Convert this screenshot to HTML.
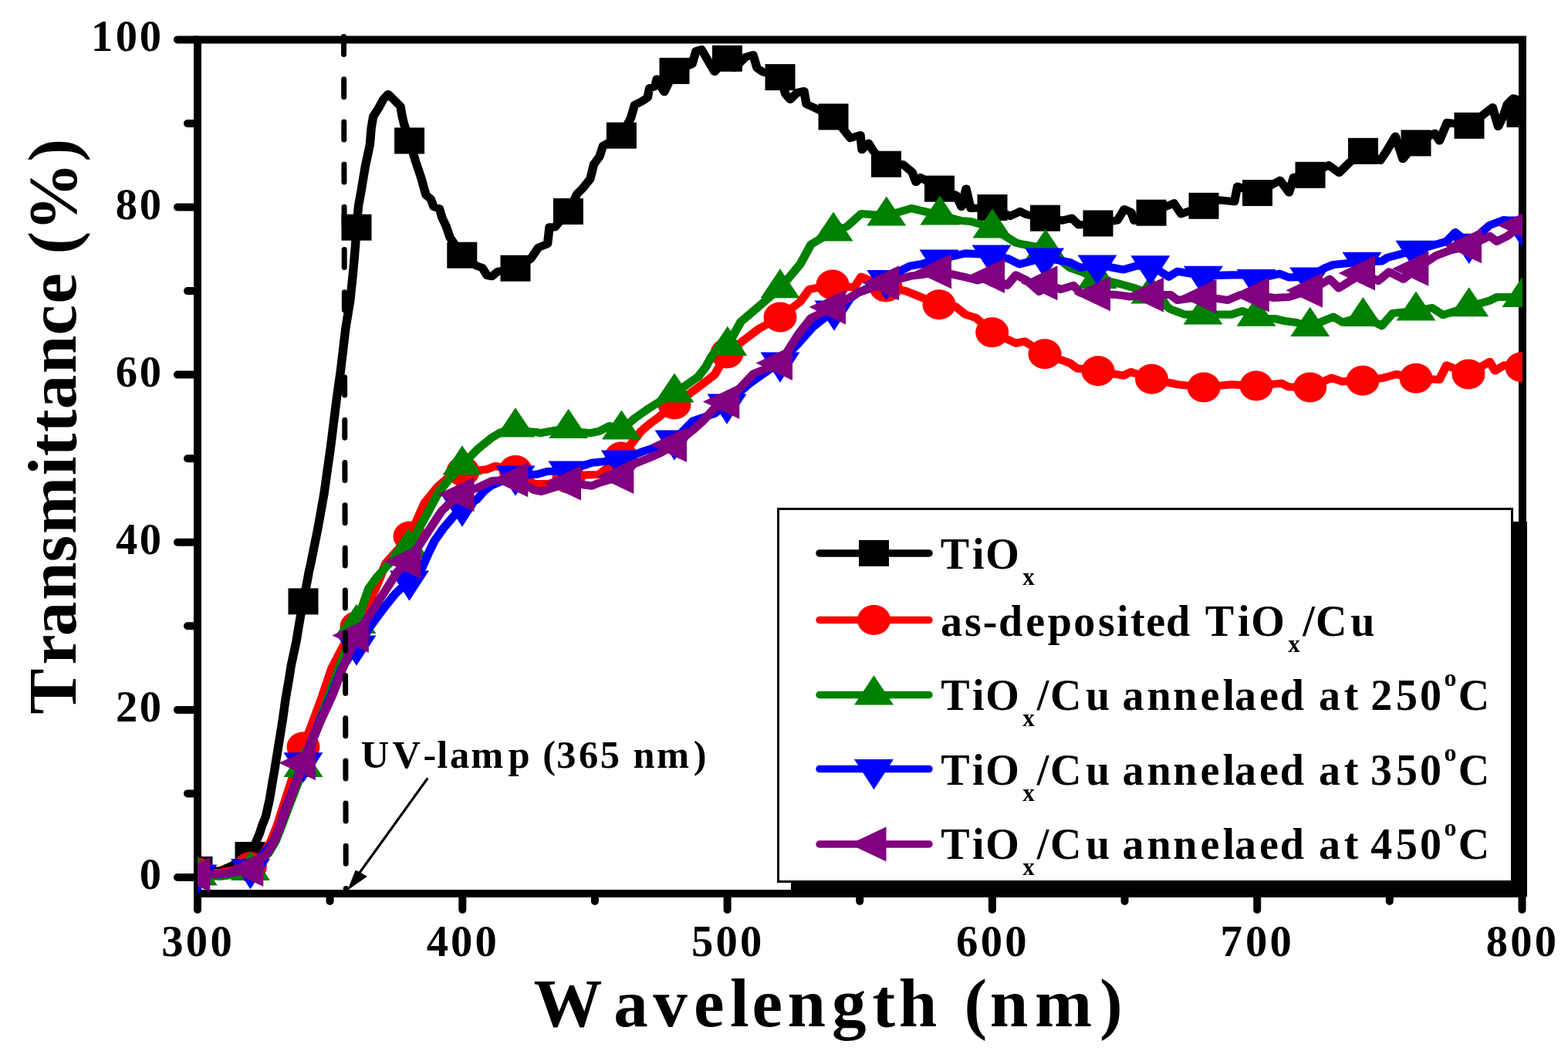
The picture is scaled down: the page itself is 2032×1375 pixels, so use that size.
<!DOCTYPE html>
<html><head><meta charset="utf-8"><title>Transmittance</title>
<style>html,body{margin:0;padding:0;background:#fff;overflow:hidden;} svg{display:block;}</style>
</head><body>
<svg width="2032" height="1375" viewBox="0 0 2032 1375">
<defs><clipPath id="pc"><rect x="256" y="51.5" width="1717" height="1106.5"/></clipPath></defs>
<rect width="2032" height="1375" fill="#fff"/>
<g stroke="#000" stroke-width="10" fill="none">
<rect x="256" y="51.5" width="1717" height="1106.5" stroke-linejoin="miter"/>
<line x1="230" y1="1137.0" x2="256" y2="1137.0" stroke-linecap="round"/>
<line x1="243" y1="1028.4" x2="256" y2="1028.4" stroke-linecap="round"/>
<line x1="230" y1="919.9" x2="256" y2="919.9" stroke-linecap="round"/>
<line x1="243" y1="811.3" x2="256" y2="811.3" stroke-linecap="round"/>
<line x1="230" y1="702.8" x2="256" y2="702.8" stroke-linecap="round"/>
<line x1="243" y1="594.2" x2="256" y2="594.2" stroke-linecap="round"/>
<line x1="230" y1="485.6" x2="256" y2="485.6" stroke-linecap="round"/>
<line x1="243" y1="377.1" x2="256" y2="377.1" stroke-linecap="round"/>
<line x1="230" y1="268.5" x2="256" y2="268.5" stroke-linecap="round"/>
<line x1="243" y1="160.0" x2="256" y2="160.0" stroke-linecap="round"/>
<line x1="230" y1="51.4" x2="256" y2="51.4" stroke-linecap="round"/>
<line x1="256.0" y1="1158" x2="256.0" y2="1179" stroke-linecap="round"/>
<line x1="427.6" y1="1158" x2="427.6" y2="1168" stroke-linecap="round"/>
<line x1="599.3" y1="1158" x2="599.3" y2="1179" stroke-linecap="round"/>
<line x1="770.9" y1="1158" x2="770.9" y2="1168" stroke-linecap="round"/>
<line x1="942.6" y1="1158" x2="942.6" y2="1179" stroke-linecap="round"/>
<line x1="1114.2" y1="1158" x2="1114.2" y2="1168" stroke-linecap="round"/>
<line x1="1285.9" y1="1158" x2="1285.9" y2="1179" stroke-linecap="round"/>
<line x1="1457.5" y1="1158" x2="1457.5" y2="1168" stroke-linecap="round"/>
<line x1="1629.2" y1="1158" x2="1629.2" y2="1179" stroke-linecap="round"/>
<line x1="1800.8" y1="1158" x2="1800.8" y2="1168" stroke-linecap="round"/>
<line x1="1972.5" y1="1158" x2="1972.5" y2="1179" stroke-linecap="round"/>
</g>
<text x="180.8" y="1152.0" style="font-family:'Liberation Serif','Times New Roman',serif;font-weight:bold;font-size:56.6px">0</text>
<text x="149.9 180.8" y="934.9" style="font-family:'Liberation Serif','Times New Roman',serif;font-weight:bold;font-size:56.6px">20</text>
<text x="150.0 180.8" y="717.8" style="font-family:'Liberation Serif','Times New Roman',serif;font-weight:bold;font-size:56.6px">40</text>
<text x="149.7 180.8" y="500.6" style="font-family:'Liberation Serif','Times New Roman',serif;font-weight:bold;font-size:56.6px">60</text>
<text x="149.8 180.8" y="283.5" style="font-family:'Liberation Serif','Times New Roman',serif;font-weight:bold;font-size:56.6px">80</text>
<text x="118.0 149.8 180.8" y="66.4" style="font-family:'Liberation Serif','Times New Roman',serif;font-weight:bold;font-size:56.6px">100</text>
<text x="209.3 240.8 272.4" y="1238.5" style="font-family:'Liberation Serif','Times New Roman',serif;font-weight:bold;font-size:56.6px">300</text>
<text x="552.8 584.1 615.6" y="1238.5" style="font-family:'Liberation Serif','Times New Roman',serif;font-weight:bold;font-size:56.6px">400</text>
<text x="895.9 927.4 958.9" y="1238.5" style="font-family:'Liberation Serif','Times New Roman',serif;font-weight:bold;font-size:56.6px">500</text>
<text x="1239.1 1270.7 1302.2" y="1238.5" style="font-family:'Liberation Serif','Times New Roman',serif;font-weight:bold;font-size:56.6px">600</text>
<text x="1581.6 1614.0 1645.5" y="1238.5" style="font-family:'Liberation Serif','Times New Roman',serif;font-weight:bold;font-size:56.6px">700</text>
<text x="1925.8 1957.3 1988.8" y="1238.5" style="font-family:'Liberation Serif','Times New Roman',serif;font-weight:bold;font-size:56.6px">800</text>
<text x="691.5 795.3 846.2 899.1 945.9 974.5 1020.6 1077.9 1130.6 1164.8 1214.3 1249.4 1282.7 1340.9 1425.1" y="1330" style="font-family:'Liberation Serif','Times New Roman',serif;font-weight:bold;font-size:89px">Wavelength (nm)</text>
<text transform="translate(97.7,1000) rotate(-90)" x="74.2 138.3 175.7 222.0 271.5 308.1 383.7 408.7 439.7 469.8 515.8 565.6 606.5 646.0 670.5 700.6 790.4" y="0" style="font-family:'Liberation Serif','Times New Roman',serif;font-weight:bold;font-size:89px">Transmittance (%)</text>
<text x="467.8 508.6 548.5 566.3 582.9 610.3 658.6 686.6 703.2 721.2 749.9 777.7 802.9 820.6 851.0 898.8" y="995.3" style="font-family:'Liberation Serif','Times New Roman',serif;font-weight:bold;font-size:50.5px">UV-lamp (365 nm)</text>
<line x1="553.5" y1="1009.5" x2="466" y2="1131" stroke="#000" stroke-width="3.2" stroke-linecap="round"/>
<polygon points="450,1154 460.8,1127.5 476,1135.7" fill="#000"/>
<g clip-path="url(#pc)"><path transform="scale(1.12 1)" d="M228.57,1127.0 L241.07,1128.5 L254.46,1128.5 L267.86,1122.0 L289.29,1108.0 L296.43,1090.4 L300.36,1080.2 L303.21,1070.0 L307.50,1058.0 L311.88,1036.3 L315.09,1014.5 L317.41,1000.0 L319.55,984.6 L323.39,958.5 L327.14,932.3 L330.36,906.2 L334.37,880.0 L336.88,862.2 L342.77,831.6 L347.32,801.1 L350.89,779.4 L355.98,750.2 L357.59,740.0 L359.46,731.2 L367.68,685.4 L375.00,639.6 L382.68,578.5 L389.46,517.4 L394.20,480.0 L396.07,461.8 L399.91,425.5 L405.18,389.1 L408.57,352.7 L411.34,316.4 L412.50,294.7 L414.73,267.3 L418.21,245.5 L422.50,216.4 L428.04,187.3 L429.64,165.5 L431.87,150.9 L437.77,140.7 L443.30,129.1 L449.11,122.0 L455.62,129.1 L463.39,137.8 L465.36,150.9 L467.59,161.0 L473.75,182.4 L480.89,209.1 L487.41,230.9 L492.86,252.7 L498.48,258.0 L501.79,268.0 L508.39,270.4 L511.70,282.8 L516.07,292.7 L520.54,307.5 L534.64,330.7 L551.43,344.6 L558.04,347.1 L563.57,357.0 L569.11,358.2 L575.71,352.0 L596.43,347.7 L614.29,335.2 L622.86,320.8 L633.57,316.0 L635.71,294.4 L642.14,294.4 L657.50,274.0 L667.86,251.2 L674.29,244.0 L682.86,232.0 L687.14,212.8 L693.57,203.2 L697.86,188.8 L719.11,175.6 L730.00,152.8 L734.29,136.0 L742.86,131.2 L749.29,126.4 L751.43,114.4 L757.86,112.0 L760.00,102.4 L768.57,119.2 L780.36,91.9 L800.89,83.0 L805.36,66.0 L811.61,64.0 L817.86,76.0 L826.79,93.0 L841.43,75.8 L850.00,88.0 L862.50,74.0 L871.43,71.0 L875.89,88.0 L882.14,93.0 L902.68,100.1 L908.93,122.0 L914.29,129.0 L922.32,120.0 L930.36,118.0 L933.04,135.0 L941.07,139.0 L964.29,151.4 L976.79,169.0 L983.93,179.0 L995.54,175.0 L997.32,194.0 L1004.91,185.5 L1010.71,196.0 L1025.45,212.7 L1044.64,213.0 L1055.36,223.0 L1059.82,236.0 L1065.18,230.0 L1087.05,244.6 L1106.25,253.0 L1112.50,268.0 L1117.86,244.5 L1123.21,270.0 L1148.21,269.0 L1168.75,280.0 L1180.36,274.0 L1187.50,278.0 L1209.37,282.7 L1229.46,285.6 L1240.18,282.7 L1248.21,291.5 L1270.54,289.5 L1292.86,285.6 L1300.89,271.0 L1308.75,275.0 L1312.50,286.0 L1332.14,275.7 L1358.30,263.3 L1366.61,277.2 L1392.86,266.8 L1410.71,259.3 L1428.30,261.3 L1431.79,241.6 L1454.91,250.0 L1480.98,233.7 L1491.52,249.4 L1496.87,229.8 L1516.07,226.8 L1537.23,214.0 L1549.55,223.9 L1560.09,212.0 L1577.23,195.8 L1597.05,208.0 L1604.02,196.3 L1614.55,176.6 L1623.21,206.0 L1638.39,185.4 L1660.27,172.7 L1665.54,182.5 L1674.37,158.9 L1700.00,162.8 L1727.05,139.2 L1733.48,164.0 L1739.29,151.0 L1744.02,135.2 L1750.89,127.3 L1757.14,129.4 L1767.86,148.0" fill="none" stroke="#000000" stroke-width="10.2" stroke-linejoin="round" stroke-linecap="round"/>
<rect x="236.5" y="1110.0" width="39" height="34" fill="#000000"/>
<rect x="304.5" y="1091.0" width="39" height="34" fill="#000000"/>
<rect x="373.5" y="762.4" width="39" height="34" fill="#000000"/>
<rect x="442.5" y="277.7" width="39" height="34" fill="#000000"/>
<rect x="511.1" y="165.4" width="39" height="34" fill="#000000"/>
<rect x="579.3" y="313.7" width="39" height="34" fill="#000000"/>
<rect x="648.5" y="330.7" width="39" height="34" fill="#000000"/>
<rect x="716.9" y="257.0" width="39" height="34" fill="#000000"/>
<rect x="785.9" y="158.6" width="39" height="34" fill="#000000"/>
<rect x="854.5" y="74.9" width="39" height="34" fill="#000000"/>
<rect x="922.9" y="58.8" width="39" height="34" fill="#000000"/>
<rect x="991.5" y="83.1" width="39" height="34" fill="#000000"/>
<rect x="1060.5" y="134.4" width="39" height="34" fill="#000000"/>
<rect x="1129.0" y="195.7" width="39" height="34" fill="#000000"/>
<rect x="1198.0" y="227.6" width="39" height="34" fill="#000000"/>
<rect x="1266.5" y="252.0" width="39" height="34" fill="#000000"/>
<rect x="1335.0" y="265.7" width="39" height="34" fill="#000000"/>
<rect x="1403.5" y="272.5" width="39" height="34" fill="#000000"/>
<rect x="1472.5" y="258.7" width="39" height="34" fill="#000000"/>
<rect x="1540.5" y="249.8" width="39" height="34" fill="#000000"/>
<rect x="1610.0" y="233.0" width="39" height="34" fill="#000000"/>
<rect x="1678.5" y="209.8" width="39" height="34" fill="#000000"/>
<rect x="1747.0" y="178.8" width="39" height="34" fill="#000000"/>
<rect x="1815.5" y="168.4" width="39" height="34" fill="#000000"/>
<rect x="1884.5" y="145.8" width="39" height="34" fill="#000000"/>
<rect x="1952.5" y="131.0" width="39" height="34" fill="#000000"/>
<path transform="scale(1.12 1)" d="M228.57,1131.0 L254.46,1131.0 L267.86,1128.0 L289.55,1123.5 L305.18,1105.6 L313.39,1090.4 L320.71,1070.0 L326.16,1050.9 L336.61,1014.6 L350.89,968.0 L361.79,936.4 L373.21,901.5 L383.66,866.6 L397.14,837.5 L412.50,812.0 L426.79,782.0 L436.61,757.0 L446.43,730.0 L474.11,695.0 L491.07,652.0 L506.25,631.0 L519.64,618.0 L535.71,611.0 L549.11,610.0 L563.12,608.4 L573.21,604.0 L596.43,609.5 L617.86,627.0 L634.82,627.0 L658.04,620.0 L676.52,615.6 L692.86,615.0 L718.75,592.0 L741.96,558.5 L751.96,549.0 L761.87,541.0 L772.32,531.0 L780.36,524.0 L805.09,504.3 L826.79,485.6 L841.07,458.0 L861.61,440.0 L878.12,426.0 L902.68,411.0 L925.89,391.0 L936.34,375.0 L963.39,369.0 L988.39,372.6 L996.43,358.7 L1025.00,372.0 L1048.57,377.3 L1058.93,382.0 L1086.61,394.7 L1105.36,397.0 L1116.96,407.5 L1129.46,412.0 L1147.95,430.7 L1175.45,444.8 L1185.71,442.5 L1208.93,458.7 L1237.86,470.4 L1246.16,477.4 L1270.54,480.8 L1300.00,486.7 L1308.48,482.0 L1332.59,491.2 L1362.50,498.3 L1392.86,502.0 L1424.82,498.3 L1453.57,500.0 L1482.59,496.7 L1490.89,501.3 L1515.80,501.9 L1540.80,489.7 L1553.21,494.4 L1576.79,493.2 L1600.89,489.7 L1615.62,485.0 L1638.39,490.3 L1665.45,492.0 L1673.75,473.4 L1699.11,485.0 L1723.66,468.8 L1729.82,480.4 L1740.18,473.4 L1760.71,475.7 L1772.32,475.0" fill="none" stroke="#ff0000" stroke-width="10.2" stroke-linejoin="round" stroke-linecap="round"/>
<ellipse cx="256.0" cy="1131.0" rx="21.5" ry="19.5" fill="#ff0000"/>
<ellipse cx="324.3" cy="1123.5" rx="21.5" ry="19.5" fill="#ff0000"/>
<ellipse cx="393.0" cy="968.0" rx="21.5" ry="19.5" fill="#ff0000"/>
<ellipse cx="462.0" cy="812.0" rx="21.5" ry="19.5" fill="#ff0000"/>
<ellipse cx="531.0" cy="695.0" rx="21.5" ry="19.5" fill="#ff0000"/>
<ellipse cx="600.0" cy="611.0" rx="21.5" ry="19.5" fill="#ff0000"/>
<ellipse cx="668.0" cy="609.5" rx="21.5" ry="19.5" fill="#ff0000"/>
<ellipse cx="737.0" cy="620.0" rx="21.5" ry="19.5" fill="#ff0000"/>
<ellipse cx="805.0" cy="592.0" rx="21.5" ry="19.5" fill="#ff0000"/>
<ellipse cx="874.0" cy="524.0" rx="21.5" ry="19.5" fill="#ff0000"/>
<ellipse cx="942.0" cy="458.0" rx="21.5" ry="19.5" fill="#ff0000"/>
<ellipse cx="1011.0" cy="411.0" rx="21.5" ry="19.5" fill="#ff0000"/>
<ellipse cx="1079.0" cy="369.0" rx="21.5" ry="19.5" fill="#ff0000"/>
<ellipse cx="1148.0" cy="372.0" rx="21.5" ry="19.5" fill="#ff0000"/>
<ellipse cx="1217.0" cy="394.7" rx="21.5" ry="19.5" fill="#ff0000"/>
<ellipse cx="1285.7" cy="430.7" rx="21.5" ry="19.5" fill="#ff0000"/>
<ellipse cx="1354.0" cy="458.7" rx="21.5" ry="19.5" fill="#ff0000"/>
<ellipse cx="1423.0" cy="480.8" rx="21.5" ry="19.5" fill="#ff0000"/>
<ellipse cx="1492.5" cy="491.2" rx="21.5" ry="19.5" fill="#ff0000"/>
<ellipse cx="1560.0" cy="502.0" rx="21.5" ry="19.5" fill="#ff0000"/>
<ellipse cx="1628.0" cy="500.0" rx="21.5" ry="19.5" fill="#ff0000"/>
<ellipse cx="1697.7" cy="501.9" rx="21.5" ry="19.5" fill="#ff0000"/>
<ellipse cx="1766.0" cy="493.2" rx="21.5" ry="19.5" fill="#ff0000"/>
<ellipse cx="1835.0" cy="490.3" rx="21.5" ry="19.5" fill="#ff0000"/>
<ellipse cx="1903.0" cy="485.0" rx="21.5" ry="19.5" fill="#ff0000"/>
<ellipse cx="1972.0" cy="475.7" rx="21.5" ry="19.5" fill="#ff0000"/>
<path transform="scale(1.12 1)" d="M228.84,1134.5 L254.46,1136.0 L267.86,1134.0 L289.73,1128.0 L310.71,1105.6 L318.75,1090.4 L325.89,1070.0 L332.14,1050.9 L344.64,1014.6 L350.89,994.0 L369.11,936.4 L380.54,901.5 L391.96,866.6 L412.50,808.0 L426.61,762.6 L436.61,747.4 L448.57,732.3 L472.32,710.0 L494.11,666.0 L507.59,637.8 L521.16,619.0 L534.82,602.5 L552.68,582.0 L568.30,567.7 L578.57,560.7 L596.43,553.5 L610.71,559.0 L620.27,560.0 L625.45,561.3 L635.71,559.0 L657.77,555.0 L671.43,560.0 L682.59,561.3 L693.04,559.0 L705.36,552.0 L719.11,556.6 L734.82,541.7 L751.61,528.6 L780.36,508.6 L792.86,500.0 L808.04,488.0 L816.96,475.0 L823.21,462.0 L830.36,452.0 L841.79,448.0 L857.14,417.0 L871.87,403.0 L902.68,373.4 L925.89,342.4 L938.39,316.8 L964.29,299.6 L980.00,293.5 L996.43,277.0 L1025.71,279.6 L1054.46,270.0 L1087.41,278.7 L1111.34,286.0 L1123.21,287.0 L1135.71,291.0 L1148.21,295.5 L1175.45,314.5 L1183.93,316.8 L1209.82,322.0 L1237.86,347.0 L1250.00,351.7 L1269.64,361.0 L1295.98,368.0 L1310.71,372.6 L1331.25,380.7 L1354.20,400.6 L1370.80,407.6 L1391.96,407.5 L1424.82,407.6 L1437.32,403.0 L1453.57,409.8 L1466.07,413.0 L1475.00,413.0 L1486.61,416.0 L1500.00,418.0 L1515.80,423.0 L1542.86,410.6 L1553.21,417.6 L1577.14,410.2 L1598.93,422.2 L1611.43,406.0 L1638.39,402.7 L1657.14,399.0 L1669.64,408.2 L1699.73,397.4 L1723.66,389.6 L1731.96,385.0 L1760.71,385.0 L1772.32,385.0" fill="none" stroke="#008000" stroke-width="10.2" stroke-linejoin="round" stroke-linecap="round"/>
<polygon points="256.3,1109.3 281.8,1147.4 230.8,1147.4" fill="#008000"/>
<polygon points="324.5,1102.8 350.0,1140.9 299.0,1140.9" fill="#008000"/>
<polygon points="393.0,968.8 418.5,1006.9 367.5,1006.9" fill="#008000"/>
<polygon points="462.0,782.8 487.5,820.9 436.5,820.9" fill="#008000"/>
<polygon points="529.0,684.8 554.5,722.9 503.5,722.9" fill="#008000"/>
<polygon points="599.0,577.3 624.5,615.4 573.5,615.4" fill="#008000"/>
<polygon points="668.0,528.3 693.5,566.4 642.5,566.4" fill="#008000"/>
<polygon points="736.7,529.8 762.2,567.9 711.2,567.9" fill="#008000"/>
<polygon points="805.4,531.4 830.9,569.5 779.9,569.5" fill="#008000"/>
<polygon points="874.0,483.4 899.5,521.5 848.5,521.5" fill="#008000"/>
<polygon points="942.8,422.8 968.3,460.9 917.3,460.9" fill="#008000"/>
<polygon points="1011.0,348.2 1036.5,386.3 985.5,386.3" fill="#008000"/>
<polygon points="1080.0,274.4 1105.5,312.5 1054.5,312.5" fill="#008000"/>
<polygon points="1148.8,254.4 1174.3,292.5 1123.3,292.5" fill="#008000"/>
<polygon points="1217.9,253.5 1243.4,291.6 1192.4,291.6" fill="#008000"/>
<polygon points="1286.0,270.3 1311.5,308.4 1260.5,308.4" fill="#008000"/>
<polygon points="1355.0,296.8 1380.5,334.9 1329.5,334.9" fill="#008000"/>
<polygon points="1422.0,335.8 1447.5,373.9 1396.5,373.9" fill="#008000"/>
<polygon points="1491.0,355.5 1516.5,393.6 1465.5,393.6" fill="#008000"/>
<polygon points="1559.0,382.3 1584.5,420.4 1533.5,420.4" fill="#008000"/>
<polygon points="1628.0,384.6 1653.5,422.7 1602.5,422.7" fill="#008000"/>
<polygon points="1697.7,397.8 1723.2,435.9 1672.2,435.9" fill="#008000"/>
<polygon points="1766.4,385.0 1791.9,423.1 1740.9,423.1" fill="#008000"/>
<polygon points="1835.0,377.5 1860.5,415.6 1809.5,415.6" fill="#008000"/>
<polygon points="1903.7,372.2 1929.2,410.3 1878.2,410.3" fill="#008000"/>
<polygon points="1972.0,359.8 1997.5,397.9 1946.5,397.9" fill="#008000"/>
<path transform="scale(1.12 1)" d="M228.57,1133.0 L254.46,1133.0 L267.86,1131.0 L289.73,1125.7 L309.82,1100.0 L317.05,1090.4 L324.29,1070.0 L329.73,1050.9 L342.41,1014.6 L350.89,987.8 L369.20,936.4 L383.48,901.5 L395.36,866.6 L412.50,836.0 L443.48,789.0 L456.96,770.0 L473.66,752.0 L488.12,736.0 L495.09,718.5 L502.68,701.0 L513.75,683.6 L534.82,656.0 L551.25,648.0 L559.64,637.0 L567.86,629.6 L596.43,616.0 L621.43,614.6 L633.04,611.0 L657.14,610.0 L684.82,599.7 L718.21,596.0 L744.64,584.7 L755.00,581.0 L780.36,570.0 L801.79,545.5 L826.79,536.0 L841.07,523.0 L865.71,498.3 L902.68,469.0 L923.84,444.8 L940.45,423.8 L965.18,402.0 L992.41,379.6 L1025.71,362.5 L1040.18,352.0 L1052.95,344.7 L1066.96,342.0 L1086.61,336.0 L1116.96,328.4 L1147.32,330.0 L1166.96,335.4 L1179.46,342.4 L1208.57,334.0 L1237.86,340.0 L1250.00,347.0 L1269.64,343.0 L1300.00,349.4 L1314.73,344.7 L1331.07,343.8 L1352.14,358.7 L1362.50,351.7 L1392.32,357.3 L1424.82,356.4 L1445.54,356.4 L1453.57,361.5 L1480.36,354.7 L1491.07,359.4 L1514.82,359.0 L1532.14,347.7 L1542.86,343.0 L1575.89,339.4 L1598.93,338.4 L1605.18,333.8 L1637.50,324.3 L1673.75,312.8 L1683.93,301.2 L1699.73,315.3 L1723.66,291.9 L1740.18,285.0 L1760.71,293.0 L1772.32,290.0" fill="none" stroke="#0000ff" stroke-width="10.2" stroke-linejoin="round" stroke-linecap="round"/>
<polygon points="256.0,1159.7 281.5,1120.4 230.5,1120.4" fill="#0000ff"/>
<polygon points="324.5,1152.4 350.0,1113.1 299.0,1113.1" fill="#0000ff"/>
<polygon points="393.0,1014.5 418.5,975.2 367.5,975.2" fill="#0000ff"/>
<polygon points="462.0,862.7 487.5,823.4 436.5,823.4" fill="#0000ff"/>
<polygon points="530.5,778.7 556.0,739.4 505.0,739.4" fill="#0000ff"/>
<polygon points="599.0,682.7 624.5,643.4 573.5,643.4" fill="#0000ff"/>
<polygon points="668.0,642.7 693.5,603.4 642.5,603.4" fill="#0000ff"/>
<polygon points="736.0,636.7 761.5,597.4 710.5,597.4" fill="#0000ff"/>
<polygon points="804.4,622.7 829.9,583.4 778.9,583.4" fill="#0000ff"/>
<polygon points="874.0,596.7 899.5,557.4 848.5,557.4" fill="#0000ff"/>
<polygon points="942.0,549.7 967.5,510.4 916.5,510.4" fill="#0000ff"/>
<polygon points="1011.0,495.7 1036.5,456.4 985.5,456.4" fill="#0000ff"/>
<polygon points="1081.0,428.7 1106.5,389.4 1055.5,389.4" fill="#0000ff"/>
<polygon points="1148.8,389.2 1174.3,349.9 1123.3,349.9" fill="#0000ff"/>
<polygon points="1217.0,362.7 1242.5,323.4 1191.5,323.4" fill="#0000ff"/>
<polygon points="1285.0,356.7 1310.5,317.4 1259.5,317.4" fill="#0000ff"/>
<polygon points="1353.6,360.7 1379.1,321.4 1328.1,321.4" fill="#0000ff"/>
<polygon points="1422.0,369.7 1447.5,330.4 1396.5,330.4" fill="#0000ff"/>
<polygon points="1490.8,370.5 1516.3,331.2 1465.3,331.2" fill="#0000ff"/>
<polygon points="1559.4,384.0 1584.9,344.7 1533.9,344.7" fill="#0000ff"/>
<polygon points="1628.0,388.2 1653.5,348.9 1602.5,348.9" fill="#0000ff"/>
<polygon points="1696.6,385.7 1722.1,346.4 1671.1,346.4" fill="#0000ff"/>
<polygon points="1765.0,366.1 1790.5,326.8 1739.5,326.8" fill="#0000ff"/>
<polygon points="1834.0,351.0 1859.5,311.7 1808.5,311.7" fill="#0000ff"/>
<polygon points="1903.7,342.0 1929.2,302.7 1878.2,302.7" fill="#0000ff"/>
<polygon points="1972.0,319.7 1997.5,280.4 1946.5,280.4" fill="#0000ff"/>
<path transform="scale(1.12 1)" d="M228.93,1133.4 L254.46,1133.0 L267.86,1131.0 L290.45,1126.4 L309.29,1105.6 L317.32,1090.4 L324.55,1070.0 L330.54,1050.9 L343.04,1014.6 L350.89,988.8 L370.09,936.4 L384.37,901.5 L396.25,866.6 L412.41,823.5 L436.61,781.5 L448.57,760.7 L460.36,740.0 L472.77,727.6 L500.89,679.4 L510.98,662.4 L519.46,653.0 L534.38,640.7 L556.25,630.0 L569.64,623.0 L596.70,621.7 L617.86,635.0 L626.43,637.0 L658.04,625.9 L684.82,629.6 L692.86,625.9 L719.11,617.5 L733.48,601.4 L751.96,593.1 L764.29,587.0 L780.36,576.4 L801.34,557.8 L813.66,545.4 L825.89,530.0 L841.34,520.6 L871.87,484.4 L902.68,470.4 L923.84,433.0 L938.39,412.2 L964.29,398.0 L992.41,379.6 L1025.89,366.8 L1040.18,362.0 L1052.95,357.8 L1066.96,356.0 L1086.61,351.7 L1115.00,358.7 L1131.61,363.3 L1148.21,357.5 L1165.18,370.0 L1175.45,356.4 L1187.95,363.3 L1202.50,378.0 L1209.37,366.8 L1227.41,375.0 L1241.96,370.0 L1250.00,379.6 L1270.54,380.8 L1291.88,382.0 L1306.25,384.3 L1332.14,382.0 L1354.20,382.0 L1362.50,389.0 L1393.30,384.3 L1420.54,389.0 L1435.27,382.0 L1454.20,382.0 L1474.11,386.0 L1491.07,385.0 L1516.07,376.3 L1538.66,361.7 L1549.11,373.3 L1576.79,354.0 L1594.64,364.0 L1607.14,352.4 L1623.93,361.7 L1638.75,348.3 L1661.25,331.5 L1677.68,324.5 L1700.00,318.8 L1723.66,305.9 L1731.96,312.8 L1744.37,305.9 L1760.71,291.9 L1772.32,288.0" fill="none" stroke="#800080" stroke-width="10.2" stroke-linejoin="round" stroke-linecap="round"/>
<polygon points="224.9,1133.4 272.4,1110.9 272.4,1155.9" fill="#800080"/>
<polygon points="293.8,1126.4 341.3,1103.9 341.3,1148.9" fill="#800080"/>
<polygon points="361.5,988.8 409.0,966.3 409.0,1011.3" fill="#800080"/>
<polygon points="430.4,823.5 477.9,801.0 477.9,846.0" fill="#800080"/>
<polygon points="498.0,727.6 545.5,705.1 545.5,750.1" fill="#800080"/>
<polygon points="567.0,640.7 614.5,618.2 614.5,663.2" fill="#800080"/>
<polygon points="636.8,621.7 684.3,599.2 684.3,644.2" fill="#800080"/>
<polygon points="705.5,625.9 753.0,603.4 753.0,648.4" fill="#800080"/>
<polygon points="773.9,617.5 821.4,595.0 821.4,640.0" fill="#800080"/>
<polygon points="842.5,576.4 890.0,553.9 890.0,598.9" fill="#800080"/>
<polygon points="910.8,520.6 958.3,498.1 958.3,543.1" fill="#800080"/>
<polygon points="979.5,470.4 1027.0,447.9 1027.0,492.9" fill="#800080"/>
<polygon points="1048.5,398.0 1096.0,375.5 1096.0,420.5" fill="#800080"/>
<polygon points="1117.5,366.8 1165.0,344.3 1165.0,389.3" fill="#800080"/>
<polygon points="1185.5,351.7 1233.0,329.2 1233.0,374.2" fill="#800080"/>
<polygon points="1254.5,357.5 1302.0,335.0 1302.0,380.0" fill="#800080"/>
<polygon points="1323.0,366.8 1370.5,344.3 1370.5,389.3" fill="#800080"/>
<polygon points="1391.5,380.8 1439.0,358.3 1439.0,403.3" fill="#800080"/>
<polygon points="1460.5,382.0 1508.0,359.5 1508.0,404.5" fill="#800080"/>
<polygon points="1529.0,384.3 1576.5,361.8 1576.5,406.8" fill="#800080"/>
<polygon points="1597.2,382.0 1644.7,359.5 1644.7,404.5" fill="#800080"/>
<polygon points="1666.5,376.3 1714.0,353.8 1714.0,398.8" fill="#800080"/>
<polygon points="1734.5,354.0 1782.0,331.5 1782.0,376.5" fill="#800080"/>
<polygon points="1803.9,348.3 1851.4,325.8 1851.4,370.8" fill="#800080"/>
<polygon points="1872.5,318.8 1920.0,296.3 1920.0,341.3" fill="#800080"/>
<polygon points="1940.5,291.9 1988.0,269.4 1988.0,314.4" fill="#800080"/></g>
<line x1="445.5" y1="47.5" x2="448.3" y2="1156" stroke="#000" stroke-width="7" stroke-dasharray="23 32.2" stroke-linecap="round"/>
<rect x="1025" y="676" width="954" height="486" fill="#000"/>
<rect x="1008.5" y="659.5" width="951" height="483" fill="#fff" stroke="#000" stroke-width="3"/>
<line x1="1062" y1="716.9" x2="1204" y2="716.9" stroke="#000000" stroke-width="9.5" stroke-linecap="round"/>
<rect x="1113.0" y="699.9" width="39" height="34" fill="#000000"/>
<line x1="1062" y1="803.5" x2="1204" y2="803.5" stroke="#ff0000" stroke-width="9.5" stroke-linecap="round"/>
<ellipse cx="1132.5" cy="803.5" rx="21.5" ry="19.5" fill="#ff0000"/>
<line x1="1062" y1="900.5" x2="1204" y2="900.5" stroke="#008000" stroke-width="9.5" stroke-linecap="round"/>
<polygon points="1132.5,875.3 1158.0,913.4 1107.0,913.4" fill="#008000"/>
<line x1="1062" y1="996.6" x2="1204" y2="996.6" stroke="#0000ff" stroke-width="9.5" stroke-linecap="round"/>
<polygon points="1132.5,1023.3 1158.0,984.0 1107.0,984.0" fill="#0000ff"/>
<line x1="1062" y1="1094" x2="1204" y2="1094" stroke="#800080" stroke-width="9.5" stroke-linecap="round"/>
<polygon points="1101.0,1094.0 1148.5,1071.5 1148.5,1116.5" fill="#800080"/>
<text x="1218.8 1260.0 1277.2" y="736.9" style="font-family:'Liberation Serif','Times New Roman',serif;font-weight:bold;font-size:56px">TiO</text>
<text x="1325.2" y="757.9" style="font-family:'Liberation Serif','Times New Roman',serif;font-weight:bold;font-size:31px">x</text>
<text x="1218.9 1250.1 1273.7 1294.0 1329.3 1357.8 1391.2 1422.9 1446.9 1465.0 1485.2 1510.9 1542.1 1561.8 1604.0 1621.2" y="823.9" style="font-family:'Liberation Serif','Times New Roman',serif;font-weight:bold;font-size:56px">as-deposited TiO</text>
<text x="1669.2" y="844.9" style="font-family:'Liberation Serif','Times New Roman',serif;font-weight:bold;font-size:31px">x</text>
<text x="1688.2 1704.9 1750.2" y="823.9" style="font-family:'Liberation Serif','Times New Roman',serif;font-weight:bold;font-size:56px">/Cu</text>
<text x="1219.3 1260.0 1277.3" y="919.8" style="font-family:'Liberation Serif','Times New Roman',serif;font-weight:bold;font-size:56px">TiO</text>
<text x="1325.3" y="940.8" style="font-family:'Liberation Serif','Times New Roman',serif;font-weight:bold;font-size:31px">x</text>
<text x="1343.8 1361.0 1407.0 1438.1 1454.5 1486.6 1520.3 1555.5 1584.4 1600.0 1632.1 1658.8 1690.0 1709.0 1741.7 1760.4 1776.2 1808.9 1840.0" y="919.8" style="font-family:'Liberation Serif','Times New Roman',serif;font-weight:bold;font-size:56px">/Cu annelaed at 250</text>
<text x="1871.5" y="889.3" style="font-family:'Liberation Serif','Times New Roman',serif;font-weight:bold;font-size:32px">o</text>
<text x="1889.8" y="919.8" style="font-family:'Liberation Serif','Times New Roman',serif;font-weight:bold;font-size:56px">C</text>
<text x="1219.3 1260.0 1277.3" y="1016.9" style="font-family:'Liberation Serif','Times New Roman',serif;font-weight:bold;font-size:56px">TiO</text>
<text x="1325.3" y="1037.9" style="font-family:'Liberation Serif','Times New Roman',serif;font-weight:bold;font-size:31px">x</text>
<text x="1343.8 1361.0 1407.0 1438.1 1454.5 1486.6 1520.3 1555.5 1584.4 1600.0 1632.1 1658.8 1690.0 1709.0 1741.7 1760.4 1776.1 1808.9 1840.0" y="1016.9" style="font-family:'Liberation Serif','Times New Roman',serif;font-weight:bold;font-size:56px">/Cu annelaed at 350</text>
<text x="1871.5" y="986.4" style="font-family:'Liberation Serif','Times New Roman',serif;font-weight:bold;font-size:32px">o</text>
<text x="1889.8" y="1016.9" style="font-family:'Liberation Serif','Times New Roman',serif;font-weight:bold;font-size:56px">C</text>
<text x="1219.3 1260.0 1277.3" y="1113.4" style="font-family:'Liberation Serif','Times New Roman',serif;font-weight:bold;font-size:56px">TiO</text>
<text x="1325.3" y="1134.4" style="font-family:'Liberation Serif','Times New Roman',serif;font-weight:bold;font-size:31px">x</text>
<text x="1343.8 1361.0 1407.0 1438.1 1454.5 1486.6 1520.3 1555.5 1584.4 1600.0 1632.1 1658.8 1690.0 1709.0 1741.7 1760.4 1776.3 1808.9 1840.0" y="1113.4" style="font-family:'Liberation Serif','Times New Roman',serif;font-weight:bold;font-size:56px">/Cu annelaed at 450</text>
<text x="1871.5" y="1082.9" style="font-family:'Liberation Serif','Times New Roman',serif;font-weight:bold;font-size:32px">o</text>
<text x="1889.8" y="1113.4" style="font-family:'Liberation Serif','Times New Roman',serif;font-weight:bold;font-size:56px">C</text>
</svg>
</body></html>
